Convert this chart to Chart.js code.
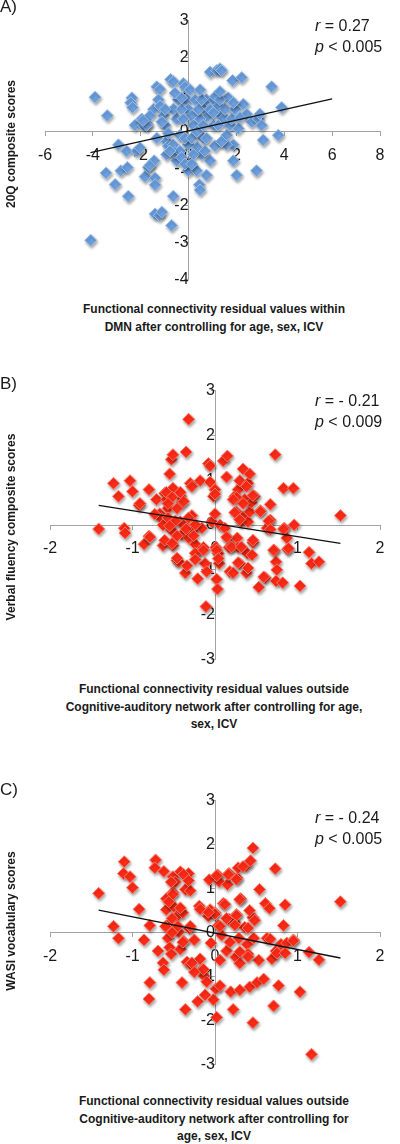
<!DOCTYPE html>
<html>
<head>
<meta charset="utf-8">
<script src="https://cdn.jsdelivr.net/npm/chart.js@4/dist/chart.umd.min.js"></script>
<style>
  body { margin: 0; background: #fff; }
  #page { position: relative; width: 400px; height: 1144px; overflow: hidden;
          font-family: "Liberation Sans", Arial, sans-serif; color: #1a1a1a; }
  canvas { position: absolute; left: 0; }
  .lbl { position: absolute; font-size: 17px; line-height: 18px; }
  .ytitle { position: absolute; font-size: 12px; font-weight: bold; white-space: nowrap;
            transform: translate(-50%, -50%) rotate(-90deg); }
  .xtitle { position: absolute; left: 0; width: 428px; text-align: center; font-size: 12px;
            font-weight: bold; line-height: 17.5px; }
  .stat { position: absolute; left: 315px; font-size: 16px; line-height: 21px; }
</style>
</head>
<body>
<div id="page">
  <canvas id="chartA" width="400" height="300" style="top:0px"></canvas>
  <canvas id="chartB" width="400" height="310" style="top:370px"></canvas>
  <canvas id="chartC" width="400" height="305" style="top:780px"></canvas>

  <div class="lbl" style="left:0px; top:-2px">A)</div>
  <div class="ytitle" style="left:11px; top:144px">20Q composite scores</div>
  <div class="xtitle" style="top:301px">Functional connectivity residual values within<br>DMN after controlling for age, sex, ICV</div>
  <div class="stat" style="top:15px"><i>r</i> = 0.27<br><i>p</i> &lt; 0.005</div>

  <div class="lbl" style="left:0px; top:375px">B)</div>
  <div class="ytitle" style="left:11px; top:527px">Verbal fluency composite scores</div>
  <div class="xtitle" style="top:681px">Functional connectivity residual values outside<br>Cognitive-auditory network after controlling for age,<br>sex, ICV</div>
  <div class="stat" style="top:390px"><i>r</i> = - 0.21<br><i>p</i> &lt; 0.009</div>

  <div class="lbl" style="left:0px; top:781px">C)</div>
  <div class="ytitle" style="left:11px; top:921px">WASI vocabulary scores</div>
  <div class="xtitle" style="top:1093px">Functional connectivity residual values outside<br>Cognitive-auditory network after controlling for<br>age, sex, ICV</div>
  <div class="stat" style="top:807px"><i>r</i> = - 0.24<br><i>p</i> &lt; 0.005</div>
</div>

<script>
// Panel A: DMN connectivity vs 20Q composite
const aX = [-3.91, -4.09, -3.4, -3.45, -3.07, -2.93, -2.83, -2.56, -2.52, -2.59, -2.37, -2.42, -2.34, -2.24, -2.17,
  -1.96, -1.89, -1.82, -1.68, -1.72, -1.44, -1.4, -1.4, -1.33, -1.47, -1.33, -1.2, -1.4, -1.22, -1.12, -1.26, -1.19,
  -1.05, -0.98, -0.92, -0.92, -0.85, -0.75, -0.64, -0.71, -0.64, -0.5, -0.5, -0.36, -0.22, -0.15, -0.08, -0.01, -0.01,
  -0.01, 0.06, 0.13, 0.2, 0.27, 0.34, 0.37, 0.45, 0.48, 0.55, 0.61, 0.68, 0.75, 0.75, 0.82, 0.9, 0.9, 1.04, 1.04, 1.11,
  1.11, 1.17, 1.24, 1.31, 1.38, 1.38, 1.45, 1.52, 1.59, 1.66, 1.73, 1.8, 1.84, 1.87, 1.87, 1.94, 2.01, 2.08, 2.22, 2.29,
  2.43, 2.64, 2.84, 2.91, 2.98, 3.05, 3.12, 3.47, 3.75, 3.89,
  -0.64, -0.43, -0.29, -0.22, -0.64, -0.57, -0.36, -0.29, -0.15, 0.13, 0.2, 0.34, 0.48, 0.61, 0.41, 0.55, 0.48, 0.9,
  1.04, 1.24, 1.31, 1.87, -0.85, -0.98, -1.12, -1.61, -1.75, -0.78, -0.15, 0.13, 0.68, -0.57, -0.29, 0.75, 1.59, 1.38,
  2.15, 1.31, -2.03, -1.62, -1.9];
const aY = [0.93, -2.94, 0.43, -1.12, -1.43, -0.36, -1.06, -0.97, -1.75, -0.53, 0.91, 0.78, 0.65, 0.17, -0.53,
  0.34, 0.17, -1.22, -0.97, 0.18, -0.79, -1.26, -1.44, -0.18, 0.6, 1.21, 1.14, -2.23, -2.27, -2.18, 0.86, 0.69,
  0.43, 0.17, -0.27, -0.62, -0.39, 1.41, -1.75, -2.54, 1.35, -0.79, 0.34, -0.1, 1.3, 1.21, 0.86, 0.6, -0.36,
  -1.06, 1.13, 0.43, 0.17, 0.86, -1.06, -0.44, -1.44, -1.58, -0.62, -0.18, 0.6, 0.86, -1.18, 0.43, -0.79, 1.61, 0.86, 0.17, 0.95,
  -0.39, 1.65, 0.69, 1.7, 1.65, 0.43, 0.34, 0.6, -0.1, 0.91, 0.17, 0.34, 1.38, -0.36, -0.79, 0.6, -1.18, 0.08, 1.46, 0.74,
  0.47, 0.26, -1.06, 0.34, 0.47, 0.17, -0.23, 1.21, -0.1, 0.65,
  0.6, 0.86, 0.6, 0.34, -0.36, -0.57, -0.53, -0.7, -0.18, -0.18, -0.62, 0.0, 0.34, 0.17, 0.6, 0.86, 1.13, 0.6,
  0.51, 0.17, 0.86, 0.78, -0.05, 0.6, 0.26, 0.43, 0.17, -0.53, -0.88, -0.88, -0.53, 1.04, 0.91, -0.18, -0.36, -0.27,
  0.38, 1.08, -0.44, -0.92, 0.3];
const aTrendX = [-4.1, 6];
const aTrendY = [-0.57, 0.88];

// Panel B: cognitive-auditory connectivity vs verbal fluency
const bX = [-1.41, -1.23, -1.17, -1.1, -1.09, -1.03, -1.0, -0.92, -0.86, -0.8, -0.8, -0.71, -0.67, -0.65, -0.63, -0.63,
  -0.61, -0.59, -0.57, -0.55, -0.53, -0.51, -0.51, -0.53, -0.51, -0.46, -0.44, -0.42, -0.4, -0.42, -0.4, -0.38, -0.36,
  -0.35, -0.32, -0.32, -0.3, -0.28, -0.28, -0.26, -0.24, -0.23, -0.21, -0.18, -0.16, -0.14, -0.12, -0.11, -0.1, -0.08,
  -0.06, -0.06, -0.04, -0.02, 0.0, 0.0, 0.01, 0.02, 0.03, 0.04, 0.05, 0.06, 0.1, 0.12, 0.14, 0.15, 0.16, 0.17, 0.18, 0.2,
  0.22, 0.24, 0.26, 0.27, 0.28, 0.28, 0.3, 0.3, 0.32, 0.34, 0.34, 0.36, 0.38, 0.39, 0.4, 0.4, 0.42, 0.42, 0.44, 0.46,
  0.48, 0.53, 0.55, 0.61, 0.63, 0.67, 0.67, 0.72, 0.73, 0.74, 0.75, 0.74, 0.82, 0.83, 0.84, 0.87, 0.88, 0.95, 0.96,
  1.03, 1.14, 1.17, 1.26, 1.52,
  -0.59, -0.42, -0.52, -0.38, -0.91, -0.57, -0.46, -0.73, -0.57, -0.48, -0.32, -0.55, -0.35, -0.24, -0.46, -0.26,
  -0.79, -0.61, -0.52, -0.24, -0.14, -0.46, -0.34, -0.24,
  0.38, 0.0, 0.26, 0.46, 0.22, 0.34, 0.55, 0.24, 0.3, 0.65, 0.67, 0.83, 0.14, 0.2, 0.32, 0.46, 0.71, 0.89, 0.02,
  0.45, 0.04, 0.28, 0.4, 0.59];
const bY = [-0.09, 0.93, 0.64, -0.07, -0.18, 0.99, 0.75, 0.44, -0.43, 0.79, -0.25, 0.57, 0.25, 0.14, 0.0, -0.46,
  0.71, 0.57, 0.37, 1.14, 1.46, 1.57, 0.82, -0.11, -0.46, -0.79, -0.82, 0.64, 0.5, 0.07, -0.21, 0.0, -1.07,
  1.63, 2.36, -0.29, 0.93, 0.86, 0.21, -0.11, -0.43, -0.64, -1.2, 0.99, -0.07, -0.5, -0.86, -1.82, -1.04, 1.37,
  0.96, 1.32, 0.07, 0.64, 0.25, 0.79, -0.5, -1.21, -1.43, -0.64, -0.86, 0.0, 1.43, -0.07, 1.07, 1.54, -0.29, -0.5, -1.04, -0.46,
  -1.07, 0.64, 0.29, -0.29, -0.5, 0.79, 0.99, -0.86, 0.07, 0.18, 1.25, 0.57, -1.07, -0.63, 0.93, 0.07, 1.14, 0.29, 0.5, -0.39,
  0.64, -1.39, 0.32, -1.18, -0.07, 0.46, 0.11, -0.57, 1.57, -0.82, -1.0, -1.25, -1.29, 0.82, -0.07, -0.29, -0.54, 0.82, 0.0,
  -1.36, -0.61, -0.86, -0.82, 0.21,
  0.73, 0.73, 0.62, 0.53, 0.48, 0.48, 0.37, 0.24, 0.16, 0.09, 0.16, -0.02, -0.09, 0.01, -0.24, -0.24,
  -0.27, -0.34, -0.41, -0.63, -0.56, -0.74, -0.91, -0.77,
  0.86, 0.69, 0.62, 0.66, 0.57, 0.48, 0.3, 0.28, 0.12, 0.09, -0.1, -0.09, -0.27, -0.49, -0.49, -0.34, -0.56, -0.52, -0.56,
  -0.67, -0.75, -0.84, -0.96, -1.16];
const bTrendX = [-1.41, 1.52];
const bTrendY = [0.44, -0.41];

// Panel C: cognitive-auditory connectivity vs WASI vocabulary
const cX = [-1.41, -1.23, -1.17, -1.1, -1.11, -1.03, -1.0, -0.92, -0.86, -0.79, -0.79, -0.8, -0.72, -0.73, -0.69, -0.63,
  -0.62, -0.62, -0.59, -0.59, -0.58, -0.57, -0.55, -0.53, -0.51, -0.51, -0.5, -0.48, -0.46, -0.44, -0.42, -0.42, -0.4,
  -0.39, -0.38, -0.36, -0.36, -0.34, -0.32, -0.31, -0.3, -0.3, -0.25, -0.21, -0.19, -0.18, -0.16, -0.13, -0.12, -0.1,
  -0.08, -0.07, -0.06, -0.05, -0.02, 0.0, 0.01, 0.02, 0.03, 0.04, 0.05, 0.06, 0.06, 0.08, 0.1, 0.14, 0.15, 0.17, 0.17,
  0.19, 0.22, 0.24, 0.25, 0.26, 0.27, 0.28, 0.29, 0.3, 0.3, 0.31, 0.36, 0.38, 0.39, 0.4, 0.42, 0.43, 0.46, 0.46, 0.46,
  0.47, 0.51, 0.53, 0.54, 0.59, 0.61, 0.63, 0.66, 0.69, 0.71, 0.73, 0.74, 0.77, 0.8, 0.83, 0.85, 0.87, 0.95, 1.03, 1.14,
  1.17, 1.26, 1.52,
  0.02, 0.16, 0.26, 0.34, 0.12, 0.3, 0.0, 0.14, 0.26, 0.42, 0.48, 0.06, 0.24, 0.4, 0.18, 0.3, 0.4, 0.67, 0.75, 0.85, 0.95,
  -0.51, -0.56, -0.42, -0.52, -0.6, -0.45, -0.52, -0.39, -0.3, -0.38, -0.32, -0.53, -0.18, -0.08, -0.28, -0.14, -0.25];
const cY = [0.89, 0.14, -0.13, 1.61, 1.34, 1.27, 1.02, 0.53, -0.17, 0.16, -1.14, -1.51, 1.65, 1.47, -0.42, -0.69,
  1.39, -0.85, 0.77, 0.52, 0.16, -0.13, -0.34, -0.49, 1.27, 0.91, 0.59, 1.15, 0.37, 0.01, 1.38, -0.38, -1.14,
  0.45, -0.2, -1.75, 0.98, -0.67, 1.34, 0.09, 0.95, -0.72, -0.17, -1.57, 0.6, -0.6, -0.85, -0.99, -1.42, -1.12,
  0.37, 1.2, 0.52, -0.24, -1.53, 0.45, -1.28, -1.93, 1.31, 0.16, 1.16, -1.21, -0.63, -0.06, 0.66, -0.42, 1.09, 0.3, 1.34,
  -1.35, -1.75, 0.23, -0.56, 0.41, 1.24, 1.47, -0.13, -0.7, -1.31, 0.77, 0.12, 1.52, -0.27, -0.49, -1.24, 1.63, -2.05, 1.92, 0.34,
  -0.13, -1.14, -0.63, 0.98, -1.06, 0.66, -0.13, 0.55, -0.6, -1.67, 1.45, -0.42, -1.21, -0.27, 0.16, 0.63, -0.24, -0.17, -1.35, -0.45,
  -2.77, -0.62, 0.7,
  1.29, 1.32, 1.21, 1.5, 0.64, 0.75, 0.42, 0.32, 0.39, 0.5, 0.28, 0.14, 0.17, 0.1, -0.22, -0.44, -0.55, -0.15, -0.47, -0.47, -0.19,
  0.87, 0.7, 0.56, 0.32, 0.14, 0.14, 0.0, -0.22, 0.14, 1.32, 1.18, 1.15, 0.53, 0.46, -0.69, -0.84, -0.9];
const cTrendX = [-1.41, 1.52];
const cTrendY = [0.51, -0.58];

Chart.defaults.font.family = '"Liberation Sans", Arial, sans-serif';
Chart.defaults.font.size = 16;
Chart.defaults.color = '#1a1a1a';
const axisGrey = '#a3a3a3';

const markerShadow = {
  id: 'markerShadow',
  beforeDatasetDraw(chart, args) {
    if (chart.data.datasets[args.index].shadow) {
      const ctx = chart.ctx;
      ctx.save();
      ctx.shadowColor = 'rgba(0,0,0,0.35)';
      ctx.shadowBlur = 3;
      ctx.shadowOffsetX = 1;
      ctx.shadowOffsetY = 2;
    }
  },
  afterDatasetDraw(chart, args) {
    if (chart.data.datasets[args.index].shadow) chart.ctx.restore();
  }
};

function pairs(xs, ys) {
  return xs.map((x, i) => ({ x: x, y: ys[i] }));
}

function axis(pos, min, max, step, pad) {
  return {
    type: 'linear',
    position: pos,
    min: min,
    max: max,
    ticks: { stepSize: step, color: '#1a1a1a', font: { size: 16 }, padding: pad },
    grid: { drawOnChartArea: false, drawTicks: true, tickLength: 4, color: axisGrey },
    border: { color: axisGrey, width: 1 }
  };
}

function makeChart(id, xs, ys, tx, ty, fill, edge, xr, yr, pad) {
  new Chart(document.getElementById(id).getContext('2d'), {
    type: 'scatter',
    data: {
      datasets: [
        {
          data: pairs(xs, ys),
          shadow: true,
          order: 1,
          pointStyle: 'rectRot',
          pointRadius: 6,
          backgroundColor: fill,
          borderColor: edge,
          borderWidth: 1
        },
        {
          type: 'line',
          data: pairs(tx, ty),
          order: 0,
          borderColor: '#111',
          borderWidth: 1.3,
          pointRadius: 0,
          fill: false
        }
      ]
    },
    options: {
      responsive: false,
      animation: false,
      events: [],
      layout: { padding: pad },
      plugins: { legend: { display: false }, tooltip: { enabled: false } },
      scales: {
        x: axis({ y: 0 }, xr[0], xr[1], xr[2], 10),
        y: axis({ x: 0 }, yr[0], yr[1], yr[2], 11)
      }
    },
    plugins: [markerShadow]
  });
}

document.addEventListener("DOMContentLoaded", function() {
  makeChart('chartA', aX, aY, aTrendX, aTrendY, '#6c9fde', '#9cc0ea',
    [-6, 8, 2], [-4, 3, 1], { left: 45, right: 20, top: 18, bottom: 14 });
  makeChart('chartB', bX, bY, bTrendX, bTrendY, '#ff2b17', '#ff7a66',
    [-2, 2, 1], [-3, 3, 1], { left: 50, right: 20, top: 13, bottom: 17 });
  makeChart('chartC', cX, cY, cTrendX, cTrendY, '#ff2b17', '#ff7a66',
    [-2, 2, 1], [-3, 3, 1], { left: 50, right: 20, top: 15, bottom: 12 });
});
</script>
</body>
</html>
